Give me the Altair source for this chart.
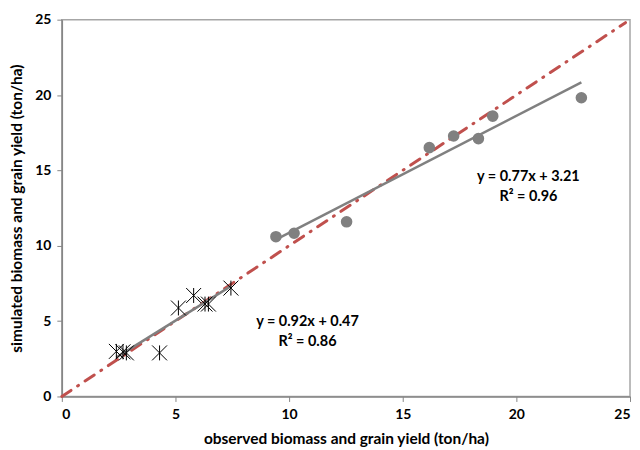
import altair as alt
import pandas as pd

# Biomass (circles)
bio_obs = [9.42, 10.22, 12.53, 16.17, 17.24, 18.33, 18.96, 22.86]
bio_sim = [10.60, 10.83, 11.59, 16.51, 17.28, 17.11, 18.60, 19.82]

# Grain yield (crosses)
grain_obs = [2.40, 2.69, 2.84, 4.30, 5.13, 5.80, 6.30, 6.45, 7.44]
grain_sim = [2.99, 2.96, 2.89, 2.89, 5.87, 6.70, 6.13, 6.13, 7.19]

# 1:1 line
diag_x = [0, 24.8]
diag_y = [0, 24.8]

ticks = [0, 5, 10, 15, 20, 25]

# annotations (data coordinates)
ann_text = ["y = 0.77x + 3.21", "R² = 0.96", "y = 0.92x + 0.47", "R² = 0.86"]
ann_x = [20.53, 20.53, 10.81, 10.81]
ann_y = [14.57, 13.25, 4.94, 3.64]

FONT = "Lato"

bio = pd.DataFrame({"x": bio_obs, "y": bio_sim})
grain = pd.DataFrame({"x": grain_obs, "y": grain_sim})
diag = pd.DataFrame({"x": diag_x, "y": diag_y})
ann = pd.DataFrame({"t": ann_text, "x": ann_x, "y": ann_y})

xs = alt.Scale(domain=[0, 25], nice=False)
ys = alt.Scale(domain=[0, 25], nice=False)

common = dict(values=ticks, grid=False, domainColor="#868686", tickColor="#868686",
              tickSize=5, labelPadding=6, labelFont=FONT, labelFontSize=14,
              labelFontWeight="bold", labelColor="black", titleFont=FONT,
              titleFontSize=15.5, titleFontWeight="bold", titleColor="black",
              domainWidth=1.5)
xax = alt.Axis(titlePadding=10, **common)
yax = alt.Axis(titlePadding=10, **common)

X = alt.X("x:Q", scale=xs, axis=xax, title="observed biomass and grain yield (ton/ha)")
Y = alt.Y("y:Q", scale=ys, axis=yax, title="simulated biomass and grain yield (ton/ha)")

diag_line = alt.Chart(diag).mark_line(
    color="#C0504D", strokeWidth=3, strokeDash=[11, 8, 1, 8], strokeCap="round"
).encode(x=X, y=Y)

bio_pts = alt.Chart(bio).mark_point(
    filled=True, color="#808080", size=135, opacity=1, shape="circle"
).encode(x=X, y=Y)

bio_reg = alt.Chart(bio).transform_regression("x", "y").mark_line(
    color="#808080", strokeWidth=2.5
).encode(x=X, y=Y)

star = "M-1,-1L1,1M1,-1L-1,1M0,-1L0,1"
grain_pts = alt.Chart(grain).mark_point(
    shape=star, filled=False, color="black", size=225, strokeWidth=1, opacity=1
).encode(x=X, y=Y)

grain_reg = alt.Chart(grain).transform_regression("x", "y").mark_line(
    color="#808080", strokeWidth=2.5
).encode(x=X, y=Y)

texts = alt.Chart(ann).mark_text(
    font=FONT, fontSize=14.5, fontWeight="bold", color="black", align="center",
    baseline="middle"
).encode(x=X, y=Y, text="t:N")

chart = alt.layer(diag_line, bio_reg, grain_reg, bio_pts, grain_pts, texts).properties(
    width=570, height=378,
    autosize=alt.AutoSizeParams(type="none"),
    padding={"left": 54, "top": 11, "right": 2, "bottom": 52},
    background="white",
).configure_view(stroke="#A6A6A6", strokeWidth=1.5)

chart.save("out.html", embed_options={"renderer": "svg", "actions": False})
